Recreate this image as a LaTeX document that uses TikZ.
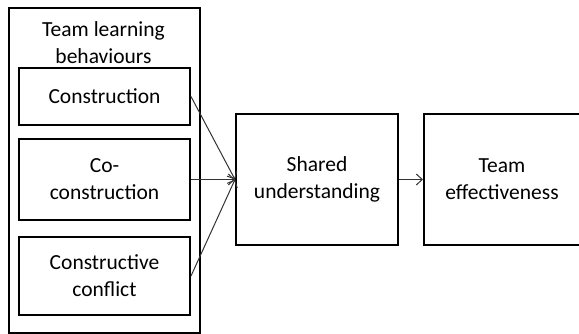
\documentclass[tikz,border=0pt]{standalone}
\usepackage{fontspec}
\setmainfont{Carlito}
\usetikzlibrary{arrows.meta}
\begin{document}
\begin{tikzpicture}[x=1pt,y=-1pt,
  txt/.style={align=center,font=\fontsize{21.5}{27}\selectfont},
  box/.style={txt,draw=black,line width=2pt,inner sep=0pt},
  conn/.style={-{Straight Barb[length=6pt,width=11pt,line width=1pt]},line width=1pt,black!80}]
\useasboundingbox (0,0) rectangle (579,333);
\node[box,minimum width=191,minimum height=325,anchor=north west] (outer) at (8,7) {};
\node[txt,anchor=north] (title) at (103.5,18) {Team learning\\behaviours};
\node[box,minimum width=171,minimum height=57,anchor=north west] (c1) at (18,67) {Construction};
\node[box,minimum width=171,minimum height=81,anchor=north west] (c2) at (18,138) {Co-\\construction};
\node[box,minimum width=171,minimum height=78,anchor=north west] (c3) at (18,236) {Constructive\\conflict};
\node[box,minimum width=162,minimum height=131,anchor=north west] (su) at (235,113) {Shared\\understanding};
\node[box,minimum width=156,minimum height=131,anchor=north west] (te) at (423,113) {Team\\effectiveness};
\draw[conn] (c1.east) -- (su.west);
\draw[conn] (c2.east) -- (su.west);
\draw[conn] (c3.east) -- (su.west);
\draw[conn] (su.east) -- (te.west);
\end{tikzpicture}
\end{document}
